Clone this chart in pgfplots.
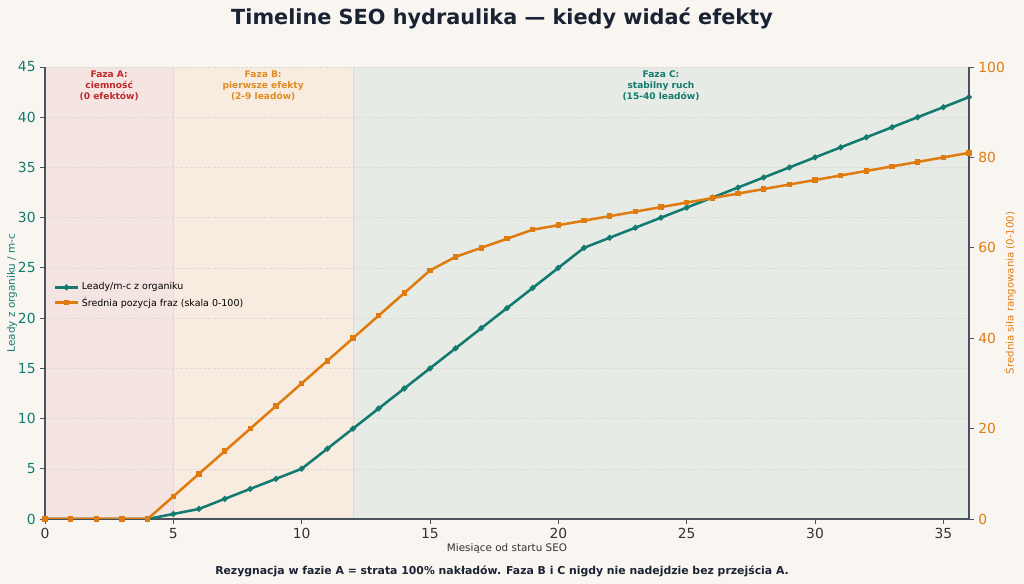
\documentclass[border=0pt]{standalone}
\usepackage{fontspec}
\setmainfont{DejaVu Sans}
\usepackage{pgfplots}
\pgfplotsset{compat=1.18}
\definecolor{bgc}{HTML}{F9F6F2}
\definecolor{phA}{HTML}{F4E5E2}
\definecolor{phB}{HTML}{F8ECE1}
\definecolor{phC}{HTML}{E6EBE5}
\definecolor{teal1}{HTML}{127A6E}
\definecolor{orng}{HTML}{E07B10}
\definecolor{redA}{HTML}{C0282D}
\definecolor{orB}{HTML}{E08A20}
\definecolor{titc}{HTML}{1A2233}
\definecolor{spine}{HTML}{4A5260}
\definecolor{gridc}{HTML}{DDDAD5}
\pgfplotstableread{
m lead
0 0
1 0
2 0
3 0
4 0
5 0.5
6 1
7 2
8 3
9 4
10 5
11 7
12 9
13 11
14 13
15 15
16 17
17 19
18 21
19 23
20 25
21 27
22 28
23 29
24 30
25 31
26 32
27 33
28 34
29 35
30 36
31 37
32 38
33 39
34 40
35 41
36 42
}\leads
\pgfplotstableread{
m pos
0 0
1 0
2 0
3 0
4 0
5 5
6 10
7 15
8 20
9 25
10 30
11 35
12 40
13 45
14 50
15 55
16 58
17 60
18 62
19 64
20 65
21 66
22 67
23 68
24 69
25 70
26 71
27 72
28 73
29 74
30 75
31 76
32 77
33 78
34 79
35 80
36 81
}\posit
\pgfplotsset{common/.style={at={(0,0)}, anchor=south west, scale only axis,
  width=693pt, height=339pt, xmin=0, xmax=36,
  tick align=outside, major tick length=3.5pt, tick style={spine, line width=0.6pt},
  /pgf/number format/assume math mode=true,
  axis line style={-, spine, line width=0.8pt}}}
\begin{document}
\begin{tikzpicture}[x=1pt,y=1pt]
\fill[bgc] (-33.75,-48.75) rectangle (734.25,389.25);
% backgrounds
\begin{axis}[common, ymin=0, ymax=45, hide axis]
\addplot[fill=phA, draw=none] coordinates {(0,0) (0,45) (5,45) (5,0)} --cycle;
\addplot[fill=phB, draw=none] coordinates {(5,0) (5,45) (12,45) (12,0)} --cycle;
\addplot[fill=phC, draw=none] coordinates {(12,0) (12,45) (36,45) (36,0)} --cycle;
\addplot[draw={rgb,255:red,236;green,214;blue,196}, line width=0.6pt] coordinates {(5,0) (5,45)};
\addplot[draw={rgb,255:red,224;green,218;blue,204}, line width=0.6pt] coordinates {(12,0) (12,45)};
\end{axis}
% left axis
\begin{axis}[common, ymin=0, ymax=45,
  axis x line*=bottom, axis y line*=left,
  xtick={0,5,...,35}, ytick={0,5,...,45},
  xticklabel style={font=\fontsize{10.4}{12}\selectfont, text=black!80},
  yticklabel style={font=\fontsize{10.4}{12}\selectfont, text=teal1},
  ymajorgrids, grid style={gridc, dash pattern=on 2pt off 1.5pt, line width=0.35pt},
  legend style={at={(0.005,0.535)}, anchor=north west, draw=none, fill=none,
    font=\fontsize{7.1}{9}\selectfont, row sep=0pt, text=black},
  legend cell align=left,
]
\addplot[teal1, line width=1.9pt, mark=*, mark size=1.1pt] table[x=m, y=lead] {\leads};
\addlegendentry{Leady/m-c z organiku}
\addlegendimage{orng, line width=1.9pt, mark=square*, mark size=1.1pt}
\addlegendentry{Średnia pozycja fraz (skala 0-100)}
\node[anchor=north, inner sep=2.5pt, align=center, text=redA, font=\bfseries\fontsize{6.8}{8.3}\selectfont] at (axis cs:2.5,45) {Faza A:\\ciemność\\(0 efektów)};
\node[anchor=north, inner sep=2.5pt, align=center, text=orB, font=\bfseries\fontsize{6.8}{8.3}\selectfont] at (axis cs:8.5,45) {Faza B:\\pierwsze efekty\\(2-9 leadów)};
\node[anchor=north, inner sep=2.5pt, align=center, text=teal1, font=\bfseries\fontsize{6.8}{8.3}\selectfont] at (axis cs:24,45) {Faza C:\\stabilny ruch\\(15-40 leadów)};
\end{axis}
% right axis
\begin{axis}[common, ymin=0, ymax=100,
  axis x line=none, axis y line*=right,
  ytick={0,20,...,100},
  yticklabel style={font=\fontsize{10.4}{12}\selectfont, text=orng},
]
\addplot[orng, line width=1.9pt, mark=square*, mark size=1.1pt] table[x=m, y=pos] {\posit};
\end{axis}
\node[font=\bfseries\fontsize{15.6}{18}\selectfont, text=titc] at (342.75,375.75) {Timeline SEO hydraulika — kiedy widać efekty};
\node[font=\fontsize{7.8}{10}\selectfont, text=black!80] at (346.5,-22.5) {Miesiące od startu SEO};
\node[font=\bfseries\fontsize{8.15}{10}\selectfont, text=titc] at (342.75,-39) {Rezygnacja w fazie A = strata 100\% nakładów. Faza B i C nigdy nie nadejdzie bez przejścia A.};
\node[rotate=90, font=\fontsize{7.8}{10}\selectfont, text=teal1] at (-24.75,169.5) {Leady z organiku / m-c};
\node[rotate=90, font=\fontsize{7.6}{10}\selectfont, text=orng] at (723.75,169.5) {Średnia siła rangowania (0-100)};
\end{tikzpicture}
\end{document}
